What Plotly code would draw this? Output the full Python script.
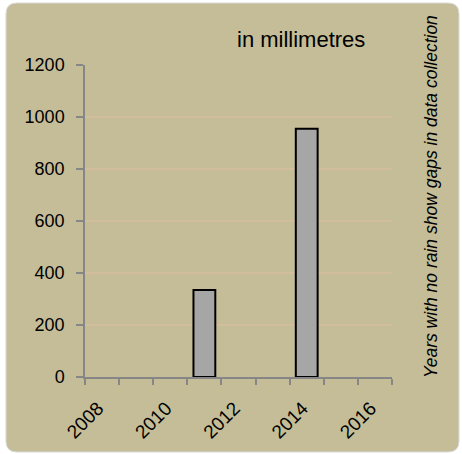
import plotly.graph_objects as go

years = [2008, 2009, 2010, 2011, 2012, 2013, 2014, 2015, 2016]
rainfall_mm = [None, None, None, 335, None, None, 955, None, None]
x_tick_labels = ["2008", "2010", "2012", "2014", "2016"]
x_tick_years = [2008, 2010, 2012, 2014, 2016]
y_ticks = [0, 200, 400, 600, 800, 1000, 1200]

W, H = 462, 454
L, R, T, B = 85, 70, 65, 77
PW, PH = W - L - R, H - T - B
LABEL_NUDGE = 0.12  # shift rotated year labels slightly left, in category units


def px(x):
    return (x - L) / PW


def py(y):
    return (H - B - y) / PH


def rounded_rect(x0, y0, x1, y1, r):
    pts = [
        ("M", px(x0 + r), py(y0)),
        ("L", px(x1 - r), py(y0)),
        ("Q", px(x1), py(y0), px(x1), py(y0 + r)),
        ("L", px(x1), py(y1 - r)),
        ("Q", px(x1), py(y1), px(x1 - r), py(y1)),
        ("L", px(x0 + r), py(y1)),
        ("Q", px(x0), py(y1), px(x0), py(y1 - r)),
        ("L", px(x0), py(y0 + r)),
        ("Q", px(x0), py(y0), px(x0 + r), py(y0)),
    ]
    s = ""
    for p in pts:
        s += p[0] + " " + " ".join(f"{v:.5f}" for v in p[1:]) + " "
    return s + "Z"


fig = go.Figure()
fig.add_trace(
    go.Bar(
        x=years,
        y=rainfall_mm,
        width=0.64,
        marker=dict(color="#a6a6a6", line=dict(color="#000000", width=2)),
        showlegend=False,
        hoverinfo="x+y",
    )
)

font = "Liberation Sans, Arial, sans-serif"

fig.update_layout(
    width=W,
    height=H,
    margin=dict(l=L, r=R, t=T, b=B, pad=0),
    paper_bgcolor="white",
    plot_bgcolor="#ffcccc",
    font=dict(family=font, size=18, color="#000000"),
    xaxis=dict(
        range=[years[0] - 0.5, years[-1] + 0.5],
        tickvals=[y - LABEL_NUDGE for y in x_tick_years],
        ticktext=x_tick_labels,
        tickangle=-45,
        ticks="",
        showgrid=False,
        showline=True,
        linecolor="#868686",
        linewidth=1.5,
        zeroline=False,
        tickfont=dict(family=font, size=19),
        ticklabelstandoff=11,
        minor=dict(
            tickvals=[y - 0.5 for y in years] + [years[-1] + 0.5],
            ticks="outside",
            ticklen=6,
            tickcolor="#868686",
            tickwidth=1.5,
            showgrid=False,
        ),
        fixedrange=True,
    ),
    yaxis=dict(
        range=[0, 1200],
        tickvals=y_ticks,
        ticks="outside",
        ticklen=7,
        tickcolor="#868686",
        tickwidth=1.5,
        ticklabelstandoff=8,
        showline=True,
        linecolor="#868686",
        linewidth=1.5,
        showgrid=True,
        gridcolor="#d2bd9c",
        gridwidth=1.5,
        zeroline=False,
        tickfont=dict(family=font, size=18),
        fixedrange=True,
    ),
    shapes=[
        dict(
            type="path",
            xref="paper",
            yref="paper",
            path=rounded_rect(6, 3, 459, 452, 11),
            fillcolor="#c4bd97",
            line=dict(color="#d9d9d9", width=1),
            layer="below",
        )
    ],
    annotations=[
        dict(
            text="in millimetres",
            xref="paper",
            yref="paper",
            x=px(301),
            y=py(39),
            xanchor="center",
            yanchor="middle",
            showarrow=False,
            font=dict(family=font, size=22, color="#000000"),
        ),
        dict(
            text="<i>Years with no rain show gaps in data collection</i>",
            xref="paper",
            yref="paper",
            x=px(431),
            y=py(197),
            xanchor="center",
            yanchor="middle",
            textangle=-90,
            showarrow=False,
            font=dict(family=font, size=17.5, color="#000000"),
        ),
    ],
)

fig.write_html(
    "out.html",
    config={"displayModeBar": False},
    post_script="document.body.style.margin='0';document.body.style.padding='0';",
)
